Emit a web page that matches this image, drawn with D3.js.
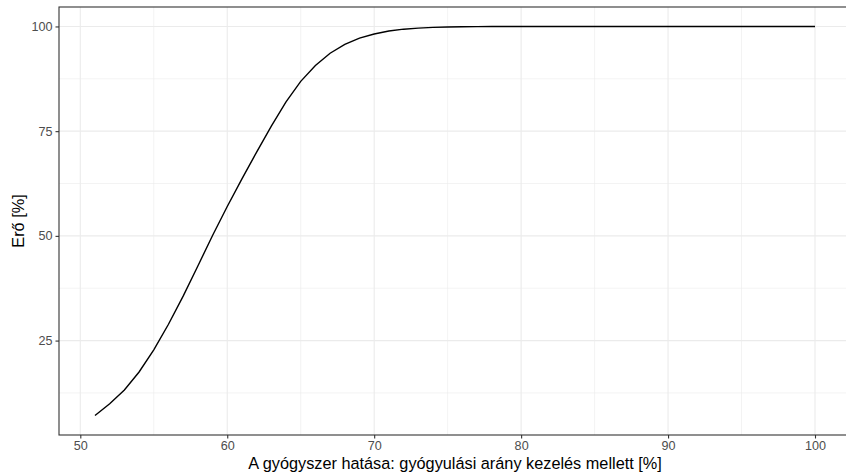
<!DOCTYPE html>
<html><head><meta charset="utf-8">
<script src="https://cdn.jsdelivr.net/npm/d3@7"></script>
<style>body{margin:0;background:#fff}svg{display:block}</style>
</head><body>
<script>
const hatas = [51,52,53,54,55,56,57,58,59,60,61,62,63,64,65,66,67,68,69,70,71,72,73,74,75,76,77,78,79,80,81,82,83,84,85,86,87,88,89,90,91,92,93,94,95,96,97,98,99,100];
const ero = [7.1,9.9,13.2,17.5,22.8,28.9,35.6,42.8,50.1,57.0,63.6,70.0,76.2,82.0,86.9,90.7,93.6,95.7,97.2,98.2,98.9,99.35,99.6,99.78,99.88,99.94,99.97,99.99,100,100,100,100,100,100,100,100,100,100,100,100,100,100,100,100,100,100,100,100,100,100];
const xTicks = [50,60,70,80,90,100];
const yTicks = [25,50,75,100];
const xMinor = [55,65,75,85,95];
const yMinor = [12.5,37.5,62.5,87.5];
const xTitle = "A gyógyszer hatása: gyógyulási arány kezelés mellett [%]";
const yTitle = "Erő [%]";

const W=846,H=475;
const L=59,R=851,T=7,B=435;
const svg=d3.select("body").append("svg").attr("width",W).attr("height",H)
  .style("font-family","'Liberation Sans',Arial,sans-serif");
const xr=d3.extent(hatas), yr=d3.extent(ero);
const xe=(xr[1]-xr[0])*0.05, ye=(yr[1]-yr[0])*0.05;
const x=d3.scaleLinear().domain([xr[0]-xe,xr[1]+xe]).range([L,R]);
const y=d3.scaleLinear().domain([yr[0]-ye,yr[1]+ye]).range([B,T]);

svg.append("rect").attr("x",L).attr("y",T).attr("width",R-L).attr("height",B-T).attr("fill","#fff");
const g=svg.append("g");
g.selectAll(".xm").data(xMinor).enter().append("line").attr("x1",d=>x(d)).attr("x2",d=>x(d)).attr("y1",T).attr("y2",B).attr("stroke","#EBEBEB").attr("stroke-width",0.6);
g.selectAll(".ym").data(yMinor).enter().append("line").attr("y1",d=>y(d)).attr("y2",d=>y(d)).attr("x1",L).attr("x2",R).attr("stroke","#EBEBEB").attr("stroke-width",0.6);
g.selectAll(".xM").data(xTicks).enter().append("line").attr("x1",d=>x(d)).attr("x2",d=>x(d)).attr("y1",T).attr("y2",B).attr("stroke","#EBEBEB").attr("stroke-width",1.1);
g.selectAll(".yM").data(yTicks).enter().append("line").attr("y1",d=>y(d)).attr("y2",d=>y(d)).attr("x1",L).attr("x2",R).attr("stroke","#EBEBEB").attr("stroke-width",1.1);

const line=d3.line().x((d,i)=>x(hatas[i])).y(d=>y(d));
svg.append("path").datum(ero).attr("d",line).attr("fill","none").attr("stroke","#000").attr("stroke-width",1.4);

svg.append("rect").attr("x",L).attr("y",T).attr("width",R-L).attr("height",B-T).attr("fill","none").attr("stroke","#333333").attr("stroke-width",1.1);

const xa=svg.append("g").attr("transform",`translate(0,${B})`)
  .call(d3.axisBottom(x).tickValues(xTicks).tickSize(3.5).tickPadding(3).tickFormat(d3.format("d")));
const ya=svg.append("g").attr("transform",`translate(${L},0)`)
  .call(d3.axisLeft(y).tickValues(yTicks).tickSize(3.5).tickPadding(3).tickFormat(d3.format("d")));
[xa,ya].forEach(a=>{a.select(".domain").remove();
  a.selectAll(".tick line").attr("stroke","#333333").attr("stroke-width",1.1);
  a.selectAll(".tick text").attr("fill","#4D4D4D").style("font-size","12.6px").style("font-family","'Liberation Sans',Arial,sans-serif");});

svg.append("text").attr("x",(L+R)/2).attr("y",469).attr("text-anchor","middle").style("font-size","16.3px").attr("fill","#000").text(xTitle);
svg.append("text").attr("transform",`translate(24,${(T+B)/2}) rotate(-90)`).attr("text-anchor","middle").style("font-size","16.3px").attr("fill","#000").text(yTitle);
</script>
</body></html>
